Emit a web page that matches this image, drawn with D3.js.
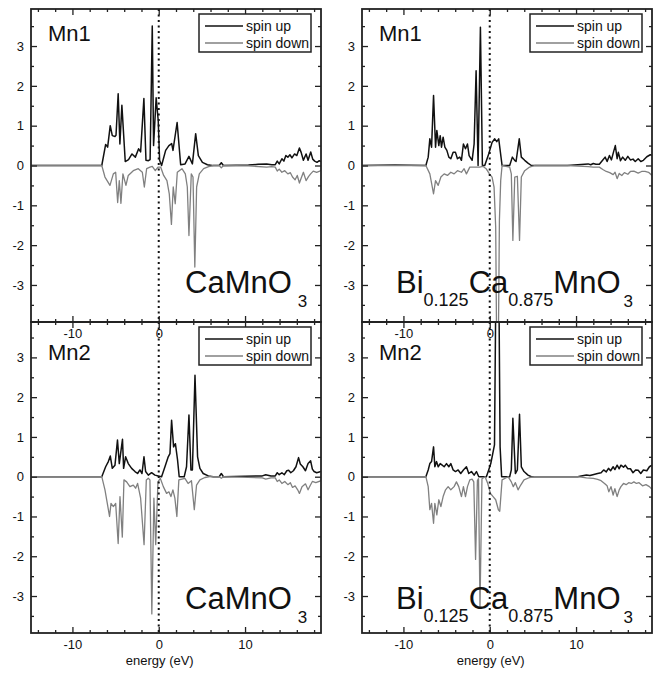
<!DOCTYPE html>
<html>
<head>
<meta charset="utf-8">
<script src="https://cdn.jsdelivr.net/npm/d3@7/dist/d3.min.js"></script>
<style>
  body { margin: 0; background: #fff; }
  svg text { font-family: "Liberation Sans", Arial, sans-serif; fill: #111; }
</style>
</head>
<body>
<div id="dos"></div>
<script>
// Mn projected DOS, spin up / spin down, [energy (eV), DOS]

const mn1CaUp = [[-14.8,0],[-6.6,0],[-6.15,0.53],[-5.92,0.46],[-5.62,1.0],[-5.38,0.75],[-5.07,0.73],[-4.95,0.76],[-4.7,1.8],[-4.5,0.54],[-4.27,1.51],[-3.88,0.1],[-3.5,0.15],[-3.1,0.29],[-2.71,0.21],[-2.33,0.42],[-2.1,0.34],[-1.72,1.68],[-1.48,0.13],[-1.2,0.12],[-1.0,0.15],[-0.75,3.5],[-0.6,0.5],[-0.3,1.7],[-0.06,1.13],[0.1,0.13],[0.33,0],[0.8,0.38],[1.18,0.5],[1.5,0.55],[1.65,0.38],[2.13,1.08],[2.54,0.02],[3.05,0.04],[3.5,0.23],[3.9,0.04],[4.28,0.8],[4.59,0.25],[5.06,0.08],[5.64,0.02],[6.2,0],[7.0,0],[7.25,0.07],[7.5,0],[10.4,0.01],[11.5,0.03],[12.5,0.04],[13.1,0.02],[13.5,0.02],[13.73,0.11],[13.96,0.04],[14.27,0.17],[14.5,0.11],[14.73,0.25],[14.96,0.21],[15.2,0.27],[15.43,0.19],[15.74,0.29],[16.0,0.25],[16.3,0.44],[16.5,0.33],[16.76,0.13],[17.07,0.29],[17.3,0.13],[17.61,0.34],[17.84,0.16],[18.07,0.11],[18.34,0.08],[18.6,0.12],[18.8,0.1]];
const mn1CaDown = [[-14.8,0],[-6.6,0],[-6.23,-0.29],[-5.65,-0.5],[-5.26,-0.21],[-4.99,-0.17],[-4.76,-0.93],[-4.57,-0.38],[-4.38,-0.95],[-4.15,-0.21],[-3.8,-0.5],[-3.53,-0.25],[-2.95,-0.13],[-2.37,-0.08],[-1.9,-0.17],[-1.67,-0.54],[-1.4,-0.08],[-1.02,-0.04],[-0.75,-0.02],[-0.4,-0.13],[-0.09,-0.04],[0.22,-0.04],[0.57,-0.25],[0.95,-0.38],[1.22,-0.71],[1.47,-1.48],[1.68,-0.54],[1.91,-0.96],[2.15,-0.17],[2.69,-0.08],[3.08,-0.21],[3.31,-0.54],[3.5,-1.76],[3.77,-0.21],[3.97,-0.29],[4.18,-2.55],[4.39,-0.54],[4.7,-0.21],[5.2,-0.08],[5.78,-0.03],[6.36,0],[7.0,0],[7.25,-0.06],[7.5,0],[10.4,-0.01],[12.5,-0.04],[13.1,-0.03],[13.5,-0.04],[13.73,-0.14],[13.96,-0.09],[14.27,-0.17],[14.6,-0.13],[14.96,-0.21],[15.25,-0.18],[15.5,-0.29],[15.8,-0.36],[16.05,-0.25],[16.3,-0.44],[16.5,-0.32],[16.76,-0.17],[17.07,-0.38],[17.35,-0.28],[17.6,-0.21],[17.9,-0.14],[18.3,-0.17],[18.8,-0.13]];

const mn1BiUp = [[-14.8,0],[-11,0.01],[-7.4,0],[-7.13,0.21],[-6.94,0.67],[-6.74,0.46],[-6.51,1.76],[-6.28,0.46],[-6.13,0.88],[-5.9,0.5],[-5.74,0.75],[-5.59,0.46],[-5.4,0.71],[-5.2,0.46],[-4.97,0.38],[-4.74,0.21],[-4.51,0.17],[-4.24,0.33],[-3.97,0.33],[-3.74,0.17],[-3.47,0.21],[-3.28,0.13],[-3.05,0.54],[-2.81,0.42],[-2.58,0.54],[-2.39,0.25],[-2.04,0.13],[-1.81,0.54],[-1.58,2.38],[-1.35,0],[-1.08,3.47],[-0.85,0],[-0.58,0],[-0.12,0.29],[0.27,0.58],[0.58,0.67],[0.81,0.6],[1.04,0.67],[1.43,0],[2.31,0],[2.62,0.21],[2.89,0.13],[3.05,0.1],[3.42,0.67],[3.66,0.21],[4.05,0.13],[4.43,0.06],[4.82,0],[9.0,0],[11.4,0.04],[11.7,0.02],[12.0,0.05],[12.3,0.03],[12.7,0.03],[13.1,0.14],[13.37,0.21],[13.6,0.1],[13.87,0.25],[14.1,0.14],[14.33,0.33],[14.55,0.5],[14.76,0.17],[14.9,0.33],[15.15,0.12],[15.4,0.21],[15.7,0.13],[16.0,0.23],[16.3,0.14],[16.6,0.16],[16.86,0.1],[17.2,0.17],[17.5,0.1],[17.8,0.13],[18.2,0.22],[18.6,0.27],[18.8,0.26]];
const mn1BiDown = [[-14.8,0],[-7.4,0],[-6.94,-0.21],[-6.51,-0.71],[-6.28,-0.38],[-5.97,-0.5],[-5.66,-0.29],[-5.28,-0.21],[-4.9,-0.25],[-4.51,-0.17],[-4.13,-0.21],[-3.74,-0.13],[-3.28,-0.17],[-2.97,-0.08],[-2.7,-0.21],[-2.31,-0.04],[-1.73,-0.04],[-1.16,-0.04],[-0.8,-0.02],[-0.42,-0.08],[-0.04,-0.21],[0.27,-0.29],[0.5,-0.54],[0.69,-1.55],[0.82,-5.0],[0.98,-5.0],[1.12,-1.38],[1.27,-0.38],[1.43,0],[2.31,-0.04],[2.5,-0.21],[2.68,-1.88],[2.9,-0.29],[3.2,-0.27],[3.45,-1.88],[3.66,-0.29],[4.05,-0.13],[4.62,-0.04],[5.2,0],[9.0,0],[11.4,-0.03],[12.0,-0.04],[12.7,-0.04],[13.1,-0.1],[13.5,-0.15],[13.9,-0.18],[14.3,-0.23],[14.52,-0.17],[14.76,-0.33],[15.0,-0.2],[15.3,-0.25],[15.6,-0.18],[16.0,-0.22],[16.3,-0.15],[16.7,-0.14],[17.2,-0.19],[17.6,-0.15],[18.0,-0.15],[18.4,-0.17],[18.8,-0.25]];

const mn2CaUp = [[-14.8,0],[-6.6,0],[-6.15,0.25],[-5.84,0.38],[-5.61,0.52],[-5.38,0.21],[-5.07,0.29],[-4.78,0.92],[-4.57,0.33],[-4.2,0.94],[-4.07,0.21],[-3.84,0.5],[-3.53,0.33],[-3.14,0.21],[-2.75,0.13],[-2.45,0.08],[-2.18,0.17],[-1.94,0.08],[-1.71,0.5],[-1.52,0.13],[-1.21,0.04],[-0.83,0.1],[-0.44,0.04],[-0.06,0.02],[0.33,0],[0.72,0.25],[1.1,0.5],[1.3,0.58],[1.49,1.42],[1.72,0.75],[1.93,0.83],[2.18,0.42],[2.37,0],[2.95,0],[3.22,0.25],[3.5,1.55],[3.73,0.17],[3.9,0.17],[4.2,2.55],[4.5,0.5],[4.77,0.21],[5.15,0.08],[5.74,0.02],[6.32,0],[7.0,0],[7.25,0.08],[7.5,0],[12.0,0.02],[12.4,0.05],[13.0,0.02],[13.5,0.02],[13.73,0.1],[13.96,0.05],[14.27,0.1],[14.55,0.05],[14.84,0.15],[15.05,0.16],[15.3,0.1],[15.6,0.15],[15.9,0.25],[16.2,0.48],[16.4,0.32],[16.7,0.25],[17.0,0.15],[17.3,0.33],[17.6,0.4],[17.8,0.19],[18.0,0.13],[18.3,0.1],[18.8,0.13]];
const mn2CaDown = [[-14.8,0],[-6.6,0],[-6.23,-0.33],[-6.03,-0.58],[-5.7,-1.0],[-5.53,-0.67],[-5.26,-0.75],[-4.99,-0.67],[-4.7,-1.68],[-4.49,-0.5],[-4.22,-1.52],[-4.03,-0.08],[-3.72,-0.13],[-3.34,-0.25],[-2.95,-0.21],[-2.68,-0.29],[-2.45,-0.17],[-2.1,-0.54],[-1.7,-1.71],[-1.44,-0.08],[-1.21,-0.04],[-1.02,-0.08],[-0.8,-3.45],[-0.56,-0.54],[-0.35,-1.71],[-0.09,-0.13],[0.18,-0.04],[0.53,-0.25],[0.91,-0.42],[1.18,-0.38],[1.41,-0.5],[1.64,-0.33],[1.87,-0.54],[2.1,-1.0],[2.33,-0.08],[3.03,-0.04],[3.4,-0.17],[3.79,-0.1],[4.12,-0.83],[4.38,-0.21],[4.77,-0.08],[5.35,-0.02],[5.93,0],[7.0,0],[7.25,-0.04],[7.5,0],[12.0,-0.03],[12.4,-0.06],[13.0,-0.03],[13.5,-0.03],[13.73,-0.12],[13.96,-0.08],[14.27,-0.17],[14.6,-0.12],[14.96,-0.2],[15.25,-0.15],[15.5,-0.27],[15.8,-0.23],[16.1,-0.33],[16.3,-0.42],[16.6,-0.25],[17.0,-0.18],[17.3,-0.33],[17.55,-0.22],[17.8,-0.12],[18.2,-0.15],[18.8,-0.1]];

const mn2BiUp = [[-14.8,0],[-7.4,0],[-7.13,0.17],[-6.94,0.33],[-6.74,0.38],[-6.51,0.75],[-6.36,0.25],[-6.17,0.38],[-5.97,0.25],[-5.74,0.33],[-5.51,0.29],[-5.28,0.25],[-5.01,0.33],[-4.74,0.25],[-4.51,0.33],[-4.24,0.17],[-3.97,0.13],[-3.66,0.17],[-3.36,0.08],[-3.05,0.17],[-2.7,0.25],[-2.43,0.08],[-2.12,0.13],[-1.81,0.04],[-1.54,0.13],[-1.27,0],[-0.39,0],[-0.12,0.17],[0.12,0.33],[0.35,0.58],[0.55,0.8],[0.72,5.0],[1.05,5.0],[1.2,0.75],[1.38,0],[2.31,0],[2.5,0.17],[2.68,1.47],[2.97,0.08],[3.2,0.17],[3.45,1.57],[3.66,0.25],[3.97,0.13],[4.43,0.04],[4.82,0],[10.2,0],[10.6,0.02],[11.2,0.04],[11.6,0.03],[11.95,0.05],[12.5,0.08],[12.9,0.1],[13.2,0.17],[13.5,0.12],[13.76,0.21],[14.0,0.15],[14.3,0.25],[14.5,0.18],[14.76,0.29],[15.0,0.2],[15.2,0.29],[15.5,0.24],[15.7,0.29],[16.0,0.2],[16.3,0.2],[16.6,0.1],[16.9,0.17],[17.2,0.16],[17.5,0.08],[17.8,0.17],[18.2,0.15],[18.5,0.25],[18.8,0.29]];
const mn2BiDown = [[-14.8,0],[-7.4,0],[-7.13,-0.25],[-6.94,-0.83],[-6.74,-0.67],[-6.51,-1.17],[-6.36,-0.67],[-6.13,-0.96],[-5.9,-0.58],[-5.66,-0.75],[-5.4,-0.5],[-5.12,-0.33],[-4.82,-0.25],[-4.51,-0.33],[-4.13,-0.25],[-3.86,-0.13],[-3.59,-0.25],[-3.28,-0.5],[-3.05,-0.25],[-2.81,-0.5],[-2.58,-0.25],[-2.31,-0.08],[-2.04,-0.06],[-1.85,-0.13],[-1.64,-2.08],[-1.43,-0.1],[-1.3,-0.05],[-1.13,-3.3],[-0.9,-0.05],[-0.54,0],[-0.23,-0.17],[0.08,-0.42],[0.39,-0.5],[0.69,-0.58],[1.0,-0.83],[1.16,-0.87],[1.43,-0.08],[2.12,0],[2.5,-0.13],[2.73,-0.25],[2.97,-0.15],[3.28,-0.33],[3.59,-0.21],[3.97,-0.08],[4.62,-0.02],[5.2,0],[10.2,0],[11.2,-0.03],[12.0,-0.04],[12.5,-0.07],[12.9,-0.1],[13.3,-0.17],[13.6,-0.23],[13.8,-0.38],[14.05,-0.25],[14.3,-0.46],[14.5,-0.3],[14.76,-0.5],[15.0,-0.33],[15.2,-0.25],[15.5,-0.17],[15.8,-0.2],[16.1,-0.15],[16.4,-0.17],[16.7,-0.13],[17.0,-0.17],[17.3,-0.15],[17.7,-0.23],[18.1,-0.2],[18.5,-0.25],[18.8,-0.32]];

const X_DOMAIN = [-14.8, 18.8];
const X_MAJOR = [-10, 0, 10];
const X_MAJOR_TOP_LABELS = [-10, 0];   // "10" of the upper panels sits under the lower legend
const X_MINOR = [-14, -12, -8, -6, -4, -2, 2, 4, 6, 8, 12, 14, 16, 18];
const Y_MAJOR = [-3, -2, -1, 0, 1, 2, 3];
const Y_MINOR = [-3.5, -2.5, -1.5, -0.5, 0.5, 1.5, 2.5, 3.5];
const LEGEND_LABELS = ["spin up", "spin down"];

const UP_COLOR = "#111";
const DOWN_COLOR = "#808080";

const FRAME_WIDTH = 662;
const FRAME_HEIGHT = 678;

const svg = d3.select("#dos")
  .append("svg")
    .attr("width", FRAME_WIDTH)
    .attr("height", FRAME_HEIGHT);

// panel boxes (px) and contents
const panels = [
  {id: "p1", x0: 31, x1: 321, y0: 9, y1: 322, yDom: [-3.93, 3.93], up: mn1CaUp, down: mn1CaDown,
   title: "Mn1", titleY: 32, comp: "ca", compY: 284, lower: false},
  {id: "p2", x0: 362, x1: 652, y0: 9, y1: 322, yDom: [-3.93, 3.93], up: mn1BiUp, down: mn1BiDown,
   title: "Mn1", titleY: 32, comp: "bi", compY: 284, lower: false},
  {id: "p3", x0: 31, x1: 321, y0: 322, y1: 633, yDom: [-3.93, 3.89], up: mn2CaUp, down: mn2CaDown,
   title: "Mn2", titleY: 38, comp: "ca", compY: 287, lower: true},
  {id: "p4", x0: 362, x1: 652, y0: 322, y1: 633, yDom: [-3.93, 3.89], up: mn2BiUp, down: mn2BiDown,
   title: "Mn2", titleY: 38, comp: "bi", compY: 287, lower: true}
];

const fmt = d => String(d);

function drawPanel(p) {
  const xScale = d3.scaleLinear().domain(X_DOMAIN).range([p.x0, p.x1]);
  const yScale = d3.scaleLinear().domain(p.yDom).range([p.y1, p.y0]);
  const g = svg.append("g");

  g.append("clipPath").attr("id", "clip-" + p.id)
    .append("rect")
      .attr("x", p.x0).attr("y", p.y0)
      .attr("width", p.x1 - p.x0).attr("height", p.y1 - p.y0);

  const line = d3.line().x(d => xScale(d[0])).y(d => yScale(d[1]));

  const plot = g.append("g").attr("clip-path", "url(#clip-" + p.id + ")");

  plot.append("path")
    .datum(p.up)
    .attr("d", line)
    .attr("fill", "none")
    .attr("stroke", UP_COLOR)
    .attr("stroke-width", 1.5)
    .attr("stroke-linejoin", "round");

  plot.append("path")
    .datum(p.down)
    .attr("d", line)
    .attr("fill", "none")
    .attr("stroke", DOWN_COLOR)
    .attr("stroke-width", 1.3)
    .attr("stroke-linejoin", "round");

  // Fermi level
  g.append("line")
    .attr("x1", xScale(0)).attr("x2", xScale(0))
    .attr("y1", p.y0).attr("y2", p.y1)
    .attr("stroke", "#111")
    .attr("stroke-width", 2)
    .attr("stroke-dasharray", "2,3.5");

  // axes with inward ticks on all four sides
  const clean = sel => { sel.select(".domain").remove(); sel.selectAll("line").attr("stroke", "#222").attr("stroke-width", 1.3); };
  const styleText = sel => sel.selectAll("text").attr("font-size", 13).attr("fill", "#111")
      .attr("font-family", "Liberation Sans, Arial, sans-serif");

  g.append("g")
    .attr("transform", "translate(0," + p.y1 + ")")
    .call(d3.axisBottom(xScale).tickValues(X_MAJOR).tickSize(-6).tickFormat(""))
    .call(clean);
  g.append("g")
    .attr("transform", "translate(0," + p.y1 + ")")
    .call(d3.axisBottom(xScale).tickValues(p.lower ? X_MAJOR : X_MAJOR_TOP_LABELS)
      .tickSize(0).tickPadding(7).tickFormat(fmt))
    .call(clean)
    .call(styleText);
  g.append("g")
    .attr("transform", "translate(0," + p.y1 + ")")
    .call(d3.axisBottom(xScale).tickValues(X_MINOR).tickSize(-3).tickFormat(""))
    .call(clean);
  g.append("g")
    .attr("transform", "translate(0," + p.y0 + ")")
    .call(d3.axisTop(xScale).tickValues(X_MAJOR).tickSize(-6).tickFormat(""))
    .call(clean);
  g.append("g")
    .attr("transform", "translate(0," + p.y0 + ")")
    .call(d3.axisTop(xScale).tickValues(X_MINOR).tickSize(-3).tickFormat(""))
    .call(clean);

  g.append("g")
    .attr("transform", "translate(" + p.x0 + ",0)")
    .call(d3.axisLeft(yScale).tickValues(Y_MAJOR).tickSize(-6).tickPadding(7).tickFormat(fmt))
    .call(clean)
    .call(styleText);
  g.append("g")
    .attr("transform", "translate(" + p.x0 + ",0)")
    .call(d3.axisLeft(yScale).tickValues(Y_MINOR).tickSize(-3).tickFormat(""))
    .call(clean);
  g.append("g")
    .attr("transform", "translate(" + p.x1 + ",0)")
    .call(d3.axisRight(yScale).tickValues(Y_MAJOR).tickSize(-6).tickFormat(""))
    .call(clean);
  g.append("g")
    .attr("transform", "translate(" + p.x1 + ",0)")
    .call(d3.axisRight(yScale).tickValues(Y_MINOR).tickSize(-3).tickFormat(""))
    .call(clean);

  // frame
  g.append("rect")
    .attr("x", p.x0).attr("y", p.y0)
    .attr("width", p.x1 - p.x0).attr("height", p.y1 - p.y0)
    .attr("fill", "none")
    .attr("stroke", "#222")
    .attr("stroke-width", 1.8);

  // Mn label
  g.append("text")
    .attr("x", p.x0 + 17).attr("y", p.y0 + p.titleY)
    .attr("font-size", 22)
    .text(p.title);

  // compound label
  const comp = g.append("text").attr("font-size", 31).attr("y", p.y0 + p.compY);
  if (p.comp === "ca") {
    comp.attr("x", p.x0 + 154);
    comp.append("tspan").text("CaMnO");
    comp.append("tspan").attr("font-size", 17).attr("dx", 6).attr("dy", 14).text("3");
  } else {
    comp.attr("x", p.x0 + 34);
    comp.append("tspan").text("Bi");
    comp.append("tspan").attr("font-size", 18).attr("dy", 13).text("0.125");
    comp.append("tspan").attr("dy", -13).text("Ca");
    comp.append("tspan").attr("font-size", 18).attr("dy", 13).text("0.875");
    comp.append("tspan").attr("dy", -13).text("MnO");
    comp.append("tspan").attr("font-size", 17).attr("dx", 3).attr("dy", 14).text("3");
  }

  if (p.lower) {
    g.append("text")
      .attr("x", xScale(0) + 1).attr("y", 665)
      .attr("text-anchor", "middle")
      .attr("font-size", 13)
      .text("energy (eV)");
  }
}

function drawLegend(p) {
  const lg = svg.append("g").attr("transform", "translate(" + (p.x0 + 168) + "," + (p.y0 + 5) + ")");
  lg.append("rect")
    .attr("width", 112).attr("height", 38)
    .attr("fill", "#fff")
    .attr("stroke", "#222")
    .attr("stroke-width", 1.5);
  LEGEND_LABELS.forEach((lab, i) => {
    lg.append("line")
      .attr("x1", 6).attr("x2", 44)
      .attr("y1", 12 + i * 17).attr("y2", 12 + i * 17)
      .attr("stroke", i === 0 ? UP_COLOR : DOWN_COLOR)
      .attr("stroke-width", 1.4);
    lg.append("text")
      .attr("x", 47).attr("y", 17 + i * 17)
      .attr("font-size", 14)
      .text(lab);
  });
}

panels.forEach(drawPanel);
panels.forEach(drawLegend);
</script>
</body>
</html>
